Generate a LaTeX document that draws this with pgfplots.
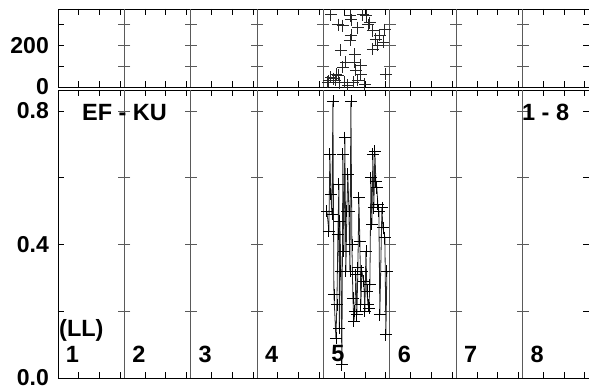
\documentclass[border=0pt]{standalone}
\usepackage{pgfplots}
\pgfplotsset{compat=1.18}
\usepackage{pgfplotstable}
\usepackage{fontspec}
\setmainfont{Liberation Sans}
\definecolor{sep}{HTML}{5A5A5A}

\pgfplotstableread{
x y
4.051 0.50
4.081 0.44
4.096 0.67
4.111 0.55
4.127 0.49
4.142 0.83
4.157 0.25
4.187 0.12
4.202 0.22
4.217 0.43
4.232 0.58
4.239 0.15
4.247 0.47
4.262 0.32
4.277 0.04
4.292 0.67
4.307 0.38
4.322 0.72
4.337 0.32
4.352 0.50
4.367 0.61
4.383 0.50
4.398 0.32
4.413 0.83
4.428 0.40
4.443 0.24
4.458 0.17
4.473 0.20
4.488 0.31
4.503 0.19
4.518 0.33
4.533 0.54
4.548 0.41
4.563 0.22
4.578 0.32
4.608 0.29
4.623 0.20
4.639 0.38
4.654 0.26
4.669 0.22
4.684 0.21
4.699 0.28
4.714 0.60
4.729 0.46
4.744 0.67
4.759 0.51
4.774 0.68
4.789 0.59
4.804 0.57
4.819 0.52
4.834 0.50
4.849 0.19
4.880 0.51
4.895 0.45
4.925 0.42
4.940 0.13
4.955 0.32
}\lowerdata

\pgfplotstableread{
x y
4.066 24
4.081 30
4.111 347
4.111 48
4.142 40
4.172 33
4.187 62
4.217 300
4.217 57
4.247 20
4.262 176
4.292 295
4.292 95
4.322 24
4.337 119
4.367 10
4.398 343
4.398 224
4.413 324
4.413 248
4.443 24
4.473 157
4.473 119
4.488 81
4.518 286
4.518 33
4.563 105
4.563 62
4.593 347
4.623 14
4.639 343
4.669 300
4.699 309
4.744 181
4.744 271
4.789 229
4.819 200
4.849 248
4.895 215
4.925 276
4.940 62
}\upperdata

\pgfplotsset{
  panel/.style={
    scale only axis, width=531pt,
    xmin=0, xmax=8,
    axis line style={black, line width=0.9pt},
    tick align=inside, xtick pos=both, ytick pos=both,
    major tick length=6pt,
    tick style={black, line width=0.8pt},
    xtick={0.3125,0.625,0.9375,1.3125,1.625,1.9375,2.3125,2.625,2.9375,3.3125,3.625,3.9375,4.3125,4.625,4.9375,5.3125,5.625,5.9375,6.3125,6.625,6.9375,7.3125,7.625,7.9375},
    xticklabels={},
    extra x ticks={1,2,3,4,5,6,7},
    extra x tick labels={},
    extra x tick style={grid=major, major tick length=0pt},
    major grid style={sep, line width=1.1pt},
    yticklabel style={font=\bfseries\fontsize{23}{23}\selectfont, inner sep=0pt, xshift=-9pt},
    clip mode=individual,
  },
}

\begin{document}
\begin{tikzpicture}
\path[use as bounding box] (-58pt,-12pt) rectangle (531pt,378pt);

% lower panel
\begin{axis}[panel, at={(0pt,0pt)}, anchor=south west, height=288pt,
  ymin=0, ymax=0.863,
  ytick={0,0.2,0.4,0.6,0.8},
  yticklabels={\textbf{0.0},,\textbf{0.4},,\textbf{0.8}},
]
\addplot[only marks, mark=-, mark size=6pt, sep, mark options={line width=0.9pt}] coordinates {
(1,0.2)(1,0.4)(1,0.6)(1,0.8)
(2,0.2)(2,0.4)(2,0.6)(2,0.8)
(3,0.2)(3,0.4)(3,0.6)(3,0.8)
(4,0.2)(4,0.4)(4,0.6)(4,0.8)
(5,0.2)(5,0.4)(5,0.6)(5,0.8)
(6,0.2)(6,0.4)(6,0.6)(6,0.8)
(7,0.2)(7,0.4)(7,0.6)(7,0.8)
};
\addplot[black!85, line width=0.8pt, mark=+, mark size=6pt, mark options={black, line width=0.8pt}] table[x=x, y=y] {\lowerdata};
\node[font=\bfseries\fontsize{23.5}{23.5}\selectfont, anchor=west, inner sep=0pt] at (axis cs:0.36,0.795) {EF - KU};
\node[font=\bfseries\fontsize{23.5}{23.5}\selectfont, anchor=west, inner sep=0pt] at (axis cs:6.99,0.795) {1 - 8};
\node[font=\bfseries\fontsize{23.5}{23.5}\selectfont, anchor=west, inner sep=0pt] at (axis cs:0.015,0.144) {(LL)};
\pgfplotsinvokeforeach{1,...,8}{
  \node[font=\bfseries\fontsize{23.5}{23.5}\selectfont, anchor=center, inner sep=0pt] at (axis cs:#1-0.782,0.072) {#1};
}
\end{axis}

% upper panel
\begin{axis}[panel, at={(0pt,291pt)}, anchor=south west, height=78pt,
  ymin=0, ymax=375,
  ytick={0,100,200,300},
  yticklabels={\textbf{0},,\textbf{200},},
]
\addplot[only marks, mark=-, mark size=6pt, sep, mark options={line width=0.9pt}] coordinates {
(1,100)(1,200)(1,300)
(2,100)(2,200)(2,300)
(3,100)(3,200)(3,300)
(4,100)(4,200)(4,300)
(5,100)(5,200)(5,300)
(6,100)(6,200)(6,300)
(7,100)(7,200)(7,300)
};
\addplot[only marks, mark=+, mark size=6pt, mark options={black!85, line width=0.8pt}] table[x=x, y=y] {\upperdata};
\end{axis}
\end{tikzpicture}
\end{document}
